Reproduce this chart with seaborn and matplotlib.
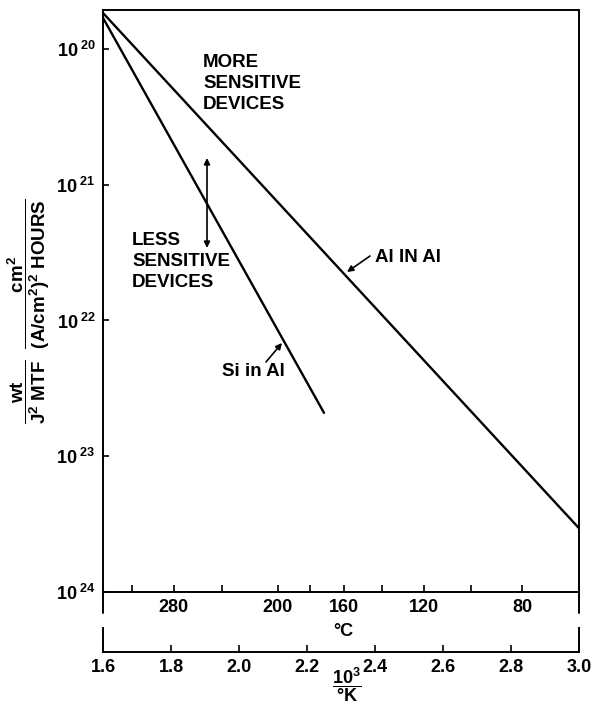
import numpy as np
import pandas as pd
import matplotlib
matplotlib.use("Agg")
import matplotlib.pyplot as plt
import seaborn as sns

# ---- data ----
al_x = [1.6, 3.0]
al_y = [5.43e19, 3.39e23]
si_x = [1.6, 2.25]
si_y = [5.9e19, 4.79e22]
series_names = ["Al IN Al", "Si in Al"]

y_ticks = [1e20, 1e21, 1e22, 1e23, 1e24]
y_ticklabels = [r"$10^{\ 20}$", r"$10^{\ 21}$", r"$10^{\ 22}$", r"$10^{\ 23}$", r"$10^{\ 24}$"]
k_ticks = [1.6, 1.8, 2.0, 2.2, 2.4, 2.6, 2.8, 3.0]
k_ticklabels = ["1.6", "1.8", "2.0", "2.2", "2.4", "2.6", "2.8", "3.0"]
c_ticks = [320, 280, 240, 200, 180, 160, 140, 120, 100, 80]
c_labeled = [280, 200, 160, 120, 80]

df = pd.DataFrame({
    "x": al_x + si_x,
    "y": al_y + si_y,
    "series": [series_names[0]] * len(al_x) + [series_names[1]] * len(si_x),
})

sns.set_style("white")
plt.rcParams["font.family"] = ["Liberation Sans", "DejaVu Sans"]
plt.rcParams["font.weight"] = "bold"
plt.rcParams["text.color"] = "black"
plt.rcParams["axes.labelcolor"] = "black"
plt.rcParams["xtick.color"] = "black"
plt.rcParams["ytick.color"] = "black"
plt.rcParams["axes.edgecolor"] = "black"
plt.rcParams["mathtext.fontset"] = "custom"
plt.rcParams["mathtext.rm"] = "Liberation Sans:bold"
plt.rcParams["mathtext.it"] = "Liberation Sans:bold"
plt.rcParams["mathtext.bf"] = "Liberation Sans:bold"
plt.rcParams["mathtext.default"] = "rm"

W, H = 595, 713
fig = plt.figure(figsize=(W / 100, H / 100), dpi=100)
L, R, T, B = 103, 579, 10, 592
ax = fig.add_axes([L / W, 1 - B / H, (R - L) / W, (B - T) / H])

sns.lineplot(data=df, x="x", y="y", hue="series", palette=["black", "black"],
             linewidth=1.7, legend=False, ax=ax)
ax.set_yscale("log")
ax.set_xlim(1.6, 3.0)
ax.set_ylim(1e24, 10 ** 19.713)
ax.set_xlabel("")
ax.set_ylabel("")

for sp in ax.spines.values():
    sp.set_color("black")
    sp.set_linewidth(1.4)

ax.yaxis.set_major_locator(matplotlib.ticker.FixedLocator(y_ticks))
ax.yaxis.set_minor_locator(matplotlib.ticker.NullLocator())
ax.set_yticklabels(y_ticklabels, fontsize=13)
ax.tick_params(axis="y", direction="in", length=4, width=1.2, pad=5, left=True,
               colors="black")

# Celsius scale on main x axis
c_pos = [1000.0 / (c + 273.0) for c in c_ticks]
ax.xaxis.set_major_locator(matplotlib.ticker.FixedLocator(c_pos))
ax.xaxis.set_minor_locator(matplotlib.ticker.NullLocator())
ax.set_xticklabels([str(c) if c in c_labeled else "" for c in c_ticks], fontsize=13)
ax.tick_params(axis="x", direction="in", length=5, width=1.2, pad=5, bottom=True,
               colors="black")

# spine extensions below the Celsius axis
ext = (613 - B) / (B - T)
for xx in (0, 1):
    ax.plot([xx, xx], [0, -ext], transform=ax.transAxes, color="black",
            lw=1.4, clip_on=False)

fig.text(343 / W, 1 - 632 / H, "°C", ha="center", va="center", fontsize=13)

# 1/K axis
k_top, k_bot = 628, 652
ax2 = fig.add_axes([L / W, 1 - k_bot / H, (R - L) / W, (k_bot - k_top) / H])
ax2.set_xlim(1.6, 3.0)
ax2.set_ylim(0, 1)
ax2.set_yticks([])
ax2.spines["top"].set_visible(False)
for s in ("left", "right", "bottom"):
    ax2.spines[s].set_color("black")
    ax2.spines[s].set_linewidth(1.4)
ax2.set_xticks(k_ticks)
ax2.set_xticklabels(k_ticklabels, fontsize=13)
ax2.tick_params(axis="x", direction="in", length=5, width=1.2, pad=5, bottom=True,
                colors="black")
ax2.patch.set_alpha(0)

fig.text(347 / W, 1 - 685 / H, r"$\dfrac{10^3}{°K}$", ha="center", va="center", fontsize=13)

# y label (fractions)
fig.text(29 / W, 1 - 311 / H,
         r"$\dfrac{wt}{J^2\ MTF}\ \ \dfrac{cm^2}{(A/cm^2)^2\ HOURS}$",
         rotation=90, ha="center", va="center", fontsize=13.5)

# annotations
def fx(px):
    return (px - L) / (R - L)

def fy(py):
    return (B - py) / (B - T)

ax.text(fx(203), fy(54), "MORE\nSENSITIVE\nDEVICES", transform=ax.transAxes,
        ha="left", va="top", fontsize=13.5, linespacing=1.32)
ax.text(fx(132), fy(232), "LESS\nSENSITIVE\nDEVICES", transform=ax.transAxes,
        ha="left", va="top", fontsize=13.5, linespacing=1.32)
ax.annotate("", xy=(fx(207), fy(158)), xytext=(fx(207), fy(248)),
            xycoords="axes fraction", textcoords="axes fraction",
            arrowprops=dict(arrowstyle="<|-|>", color="black", lw=1.2,
                            mutation_scale=9, shrinkA=0, shrinkB=0))
ax.text(fx(222), fy(371.5), "Si in Al", transform=ax.transAxes,
        ha="left", va="center", fontsize=13.5)
ax.annotate("", xy=(fx(282), fy(343)), xytext=(fx(266), fy(362)),
            xycoords="axes fraction", textcoords="axes fraction",
            arrowprops=dict(arrowstyle="-|>", color="black", lw=1.2,
                            mutation_scale=9, shrinkA=0, shrinkB=0))
ax.text(fx(375), fy(257), "Al IN Al", transform=ax.transAxes,
        ha="left", va="center", fontsize=13.5)
ax.annotate("", xy=(fx(347), fy(272)), xytext=(fx(370), fy(256)),
            xycoords="axes fraction", textcoords="axes fraction",
            arrowprops=dict(arrowstyle="-|>", color="black", lw=1.2,
                            mutation_scale=9, shrinkA=0, shrinkB=0))

fig.savefig("out.png", dpi=100, facecolor="white")
